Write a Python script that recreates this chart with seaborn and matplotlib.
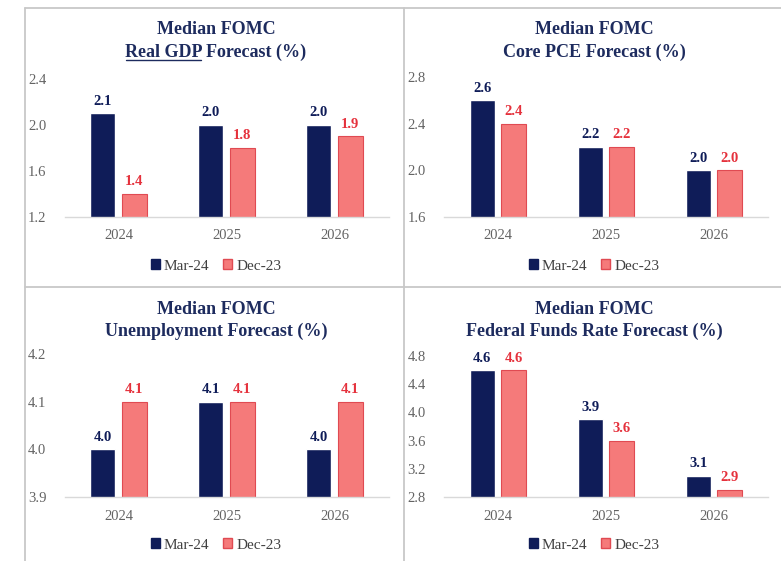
import matplotlib
matplotlib.use("Agg")
import matplotlib.pyplot as plt
import seaborn as sns
import pandas as pd
from matplotlib.lines import Line2D
from matplotlib.patches import Patch

sns.set_theme(style="white")
plt.rcParams['font.family'] = ['Liberation Serif', 'DejaVu Serif']

years = ["2024", "2025", "2026"]
series = ["Mar-24", "Dec-23"]

gdp_mar24 = [2.1, 2.0, 2.0]
gdp_dec23 = [1.4, 1.8, 1.9]
pce_mar24 = [2.6, 2.2, 2.0]
pce_dec23 = [2.4, 2.2, 2.0]
unemp_mar24 = [4.0, 4.1, 4.0]
unemp_dec23 = [4.1, 4.1, 4.1]
ffr_mar24 = [4.6, 3.9, 3.1]
ffr_dec23 = [4.6, 3.6, 2.9]

titles = [("Median FOMC", "Real GDP Forecast (%)"),
          ("Median FOMC", "Core PCE Forecast (%)"),
          ("Median FOMC", "Unemployment Forecast (%)"),
          ("Median FOMC", "Federal Funds Rate Forecast (%)")]
yticks = [[1.2, 1.6, 2.0, 2.4], [1.6, 2.0, 2.4, 2.8],
          [3.9, 4.0, 4.1, 4.2], [2.8, 3.2, 3.6, 4.0, 4.4, 4.8]]
data = [(gdp_mar24, gdp_dec23), (pce_mar24, pce_dec23),
        (unemp_mar24, unemp_dec23), (ffr_mar24, ffr_dec23)]

NAVY = "#0f1c58"
PINK = "#f57a7a"
PINK_EDGE = "#e04a52"
RED_TXT = "#e5313c"
TITLE = "#1d2b5e"
GRAY = "#636363"

W, H = 781, 561
fig = plt.figure(figsize=(W / 100, H / 100), dpi=100)

# axes pixel boxes: (x0, x1, ytop, ybottom)
boxes = [(64.5, 388.5, 79, 217), (444, 768, 77, 217),
         (64.5, 388.5, 354, 497), (444, 768, 356, 497)]
panel_cx = [216, 594, 216, 594]
title_y = [(30, 52), (30, 52), (309, 331), (309, 331)]
legend_y = [266, 266, 545, 545]

title_texts = []
for i, (x0, x1, yt, yb) in enumerate(boxes):
    ax = fig.add_axes([x0 / W, 1 - yb / H, (x1 - x0) / W, (yb - yt) / H])
    m, d = data[i]
    df = pd.DataFrame({"year": years * 2,
                       "value": list(m) + list(d),
                       "series": [series[0]] * 3 + [series[1]] * 3})
    sns.barplot(data=df, x="year", y="value", hue="series",
                palette=[NAVY, PINK], width=0.584, gap=0.22, ax=ax,
                legend=False, saturation=1)
    for p in ax.containers[1]:
        p.set_edgecolor(PINK_EDGE)
        p.set_linewidth(0.8)
    for c, col in zip(ax.containers, [NAVY, RED_TXT]):
        ax.bar_label(c, fmt="%.1f", padding=4, color=col,
                     fontsize=10.5, fontweight="bold")
    ax.set_ylim(yticks[i][0], yticks[i][-1])
    ax.set_xlim(-0.5, 2.5)
    ax.set_yticks(yticks[i])
    ax.set_yticklabels([f"{v:.1f}" for v in yticks[i]])
    ax.tick_params(axis="both", length=0, labelsize=10.5, colors=GRAY)
    ax.tick_params(axis="x", pad=9)
    ax.tick_params(axis="y", pad=13)
    ax.set_xlabel("")
    ax.set_ylabel("")
    for s in ["top", "right", "left"]:
        ax.spines[s].set_visible(False)
    ax.spines["bottom"].set_color("#d9d9d9")
    ax.spines["bottom"].set_linewidth(1.0)
    ax.set_facecolor("none")

    cx = panel_cx[i] / W
    fig.text(cx, 1 - title_y[i][0] / H, titles[i][0], ha="center", va="center",
             fontsize=13, fontweight="bold", color=TITLE)
    t2 = fig.text(cx, 1 - title_y[i][1] / H, titles[i][1], ha="center", va="center",
                  fontsize=13, fontweight="bold", color=TITLE)
    title_texts.append(t2)

    handles = [Patch(facecolor=NAVY, edgecolor=NAVY),
               Patch(facecolor=PINK, edgecolor=PINK_EDGE)]
    fig.legend(handles, series, loc="center", ncol=2,
               bbox_to_anchor=(cx, 1 - legend_y[i] / H), frameon=False,
               fontsize=11, handlelength=0.6, handleheight=0.6,
               handletextpad=0.25, columnspacing=0.9,
               labelcolor="#404040")

# underline "Real GDP"
fig.canvas.draw()
r = fig.canvas.get_renderer()
t2 = title_texts[0]
bb = t2.get_window_extent(r)
tmp_full = fig.text(0, 0, "Real GDP Forecast (%)", fontsize=13, fontweight="bold")
tmp_rest = fig.text(0, 0, "Forecast (%)", fontsize=13, fontweight="bold")
tmp_word = fig.text(0, 0, "Real GDP", fontsize=13, fontweight="bold")
w_word = tmp_word.get_window_extent(r).width
for t in (tmp_full, tmp_rest, tmp_word):
    t.remove()
uy = (bb.y0 + 1.0) / H
fig.add_artist(Line2D([(bb.x0 + 1) / W, (bb.x0 + w_word - 2) / W], [uy, uy],
                      color=TITLE, lw=1.0, transform=fig.transFigure))

# panel borders
bc = "#c8c8c8"
for xs, ys in [([24.5, 24.5], [7.5, 561]), ([24.5, 781], [7.5, 7.5]),
               ([404, 404], [7.5, 561]), ([24.5, 781], [286.5, 286.5])]:
    fig.add_artist(Line2D([x / W for x in xs], [1 - y / H for y in ys],
                          color=bc, lw=1.3, transform=fig.transFigure))

fig.savefig("out.png", dpi=100)
